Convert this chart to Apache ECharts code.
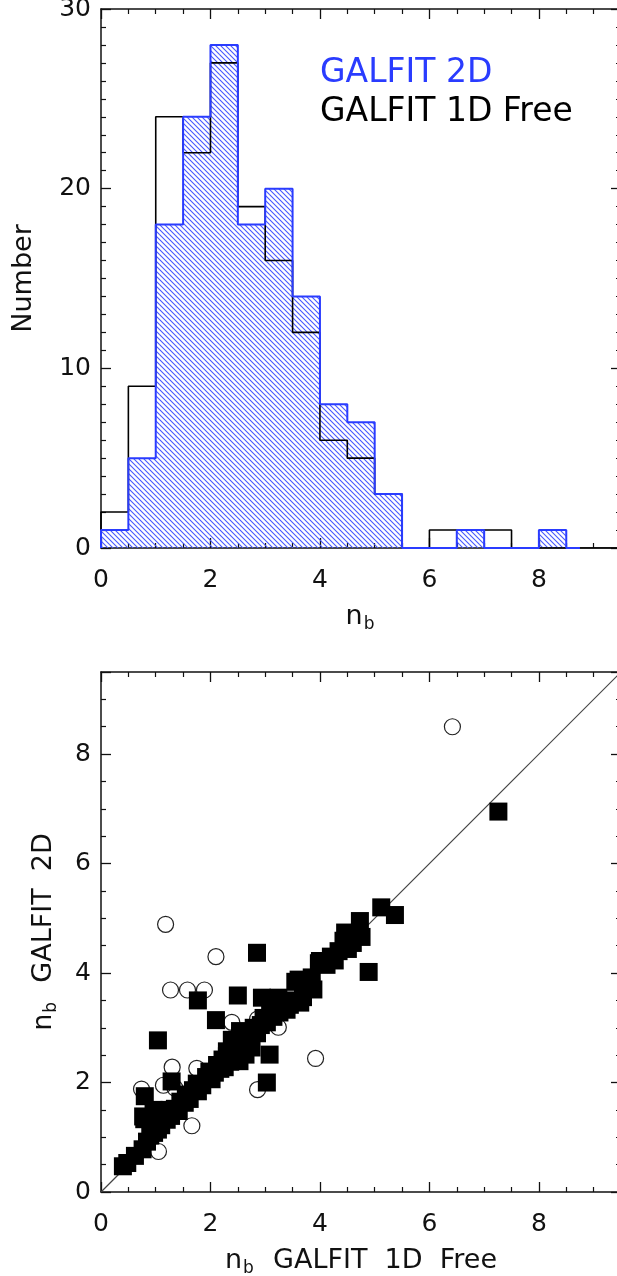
<!DOCTYPE html>
<html>
<head>
<meta charset="utf-8">
<script src="https://cdn.jsdelivr.net/npm/echarts@6/dist/echarts.min.js"></script>
<style>
html,body{margin:0;padding:0;background:#fff;}
#chart{width:617px;height:1276px;}
</style>
</head>
<body>
<div id="chart"></div>
<script>
// ---------- data ----------
const binStart = 0;
const binWidth = 0.5;
// GALFIT 1D Free histogram counts, bins 0-0.5, 0.5-1, ... up to 9.5
const counts1DFree = [2, 9, 24, 22, 27, 19, 16, 12, 6, 5, 3, 0, 1, 1, 1, 0, 0, 0, 0];
// GALFIT 2D histogram counts, bins 0-0.5 ... 8-8.5
const counts2D = [1, 5, 18, 24, 28, 18, 20, 14, 8, 7, 3, 0, 0, 1, 0, 0, 1];
const histEnd1DFree = 9.5;
const histEnd2D = 8.75;

const histXTicks = [0, 2, 4, 6, 8];
const histYTicks = [0, 10, 20, 30];
const scatXTicks = [0, 2, 4, 6, 8];
const scatYTicks = [0, 2, 4, 6, 8];

// n_b: GALFIT 1D Free (x) vs GALFIT 2D (y)
const squares = [
 [0.40,0.47],[0.48,0.53],[0.62,0.66],[0.76,0.78],[0.84,0.92],[0.90,1.03],[0.97,1.08],[1.04,1.14],
 [0.79,1.33],[0.77,1.38],[0.96,1.50],[0.80,1.75],[1.02,1.28],[1.10,1.22],[1.12,1.40],[1.20,1.32],
 [1.28,1.39],[1.25,1.50],[1.29,2.02],[1.35,1.52],[1.42,1.48],[1.45,1.65],[1.53,1.63],[1.55,1.78],
 [1.62,1.70],[1.68,1.86],[1.77,1.84],[1.75,1.98],[1.85,1.95],[1.92,2.10],[2.02,2.06],[1.98,2.20],
 [2.08,2.18],[2.12,2.32],[2.18,2.25],[2.26,2.28],[2.22,2.42],[2.30,2.48],[2.36,2.38],[2.42,2.60],
 [2.53,2.39],[2.64,2.51],[2.50,2.62],[2.60,2.72],[2.54,2.85],[2.42,2.66],[2.30,2.57],[2.39,2.78],
 [2.75,2.64],[2.70,2.85],[2.79,3.00],[2.85,2.90],[2.97,3.18],[2.92,3.05],[3.03,3.10],[3.09,3.37],
 [3.15,3.20],[3.26,3.28],[3.24,3.45],[3.33,3.46],[3.39,3.33],[3.45,3.42],[3.55,3.50],[3.64,3.46],
 [3.69,3.56],[3.84,3.74],[3.82,3.79],[3.85,3.92],[3.88,3.70],[3.61,3.88],[3.55,3.84],
 [2.94,3.55],[3.24,3.55],[3.98,4.18],[4.00,4.22],[4.12,4.15],[4.20,4.30],[4.27,4.23],
 [4.34,4.40],[4.43,4.59],[4.46,4.74],[4.51,4.44],[4.60,4.55],[4.76,4.66],[4.73,4.95],
 [5.12,5.20],[5.37,5.06],[4.89,4.02],[7.26,6.95],[2.85,4.37],[1.77,3.50],[2.50,3.59],
 [1.04,2.77],[2.10,3.14],[3.03,2.00],[3.08,2.51],[2.54,2.94]
];
const circles = [
 [6.42,8.50],[1.18,4.89],[2.10,4.30],[1.27,3.69],[1.58,3.69],[1.89,3.69],[2.39,3.10],[2.86,3.16],
 [3.24,3.01],[3.92,2.44],[2.86,1.87],[1.30,2.28],[1.75,2.26],[0.74,1.88],[1.14,1.95],[1.35,1.90],
 [1.66,1.21],[1.05,0.74]
];
const oneToOneRange = [0, 9.5];

// ---------- styling ----------
const FONT = 'DejaVu Sans';
const BLUE = '#2a3cff';
const AXIS = '#111';

function stepPoints(counts, start, width, end) {
  const pts = [[start, 0]];
  counts.forEach((c, i) => {
    pts.push([start + i * width, c]);
    pts.push([start + (i + 1) * width, c]);
  });
  pts.push([start + counts.length * width, 0]);
  pts.push([end, 0]);
  return pts;
}

function makeHatch() {
  const s = 10;
  const cv = document.createElement('canvas');
  cv.width = s; cv.height = s;
  const ctx = cv.getContext('2d');
  ctx.strokeStyle = '#4656ff';
  ctx.lineWidth = 1.1;
  for (let c = -10; c <= 10; c += 5) {
    ctx.beginPath();
    ctx.moveTo(c - 2, -2);
    ctx.lineTo(c + s + 2, s + 2);
    ctx.stroke();
  }
  return cv;
}

function baseAxis(extra) {
  return Object.assign({
    type: 'value',
    axisLine: { show: true, onZero: false, lineStyle: { color: AXIS, width: 1.5 } },
    axisTick: { show: true, inside: true, length: 10, lineStyle: { color: AXIS, width: 1.3 } },
    minorTick: { show: true, length: 5, lineStyle: { color: AXIS, width: 1.2 } },
    splitLine: { show: false },
    minorSplitLine: { show: false }
  }, extra);
}

const labelStyle = { color: AXIS, fontFamily: FONT, fontSize: 25 };
const nameRich = {
  n: { fontFamily: FONT, fontSize: 27, color: AXIS, lineHeight: 32 },
  b: { fontFamily: FONT, fontSize: 17, color: AXIS, lineHeight: 17, verticalAlign: 'bottom', padding: [0, 2, 0, 1] },
  t: { fontFamily: FONT, fontSize: 27, color: AXIS, lineHeight: 32 }
};

const chart = echarts.init(document.getElementById('chart'), null, { renderer: 'canvas' });

const option = {
  animation: false,
  backgroundColor: '#fff',
  legend: {
    orient: 'vertical',
    left: 310,
    top: 52,
    itemWidth: 0,
    itemHeight: 0,
    itemGap: 6,
    selectedMode: false,
    textStyle: { fontFamily: FONT, fontSize: 33 },
    data: [
      { name: 'GALFIT 2D', icon: 'rect', textStyle: { color: BLUE } },
      { name: 'GALFIT 1D Free', icon: 'rect', textStyle: { color: '#000' } }
    ]
  },
  grid: [
    { left: 101, top: 9, width: 520, height: 539, outerBoundsMode: 'none', containLabel: false },
    { left: 101, top: 672, width: 520, height: 520, outerBoundsMode: 'none', containLabel: false }
  ],
  xAxis: [
    baseAxis({
      gridIndex: 0, position: 'bottom', min: 0, max: 9.5, interval: 2,
      minorTick: { show: true, splitNumber: 4, length: 5, lineStyle: { color: AXIS, width: 1.2 } },
      axisLabel: Object.assign({ margin: 20, formatter: v => histXTicks.includes(v) ? String(v) : '' }, labelStyle),
      name: '{n|n}{b|b}', nameLocation: 'middle', nameGap: 53,
      nameTextStyle: { rich: nameRich }
    }),
    baseAxis({
      gridIndex: 0, position: 'top', min: 0, max: 9.5, interval: 2,
      minorTick: { show: true, splitNumber: 4, length: 5, lineStyle: { color: AXIS, width: 1.2 } },
      axisLabel: { show: false }
    }),
    baseAxis({
      gridIndex: 1, position: 'bottom', min: 0, max: 9.5, interval: 2,
      minorTick: { show: true, splitNumber: 4, length: 5, lineStyle: { color: AXIS, width: 1.2 } },
      axisLabel: Object.assign({ margin: 20, formatter: v => scatXTicks.includes(v) ? String(v) : '' }, labelStyle),
      name: '{n|n}{b|b}{t|  GALFIT  1D  Free}', nameLocation: 'middle', nameGap: 53,
      nameTextStyle: { rich: nameRich }
    }),
    baseAxis({
      gridIndex: 1, position: 'top', min: 0, max: 9.5, interval: 2,
      minorTick: { show: true, splitNumber: 4, length: 5, lineStyle: { color: AXIS, width: 1.2 } },
      axisLabel: { show: false }
    })
  ],
  yAxis: [
    baseAxis({
      gridIndex: 0, position: 'left', min: 0, max: 30, interval: 10,
      minorTick: { show: true, splitNumber: 10, length: 5, lineStyle: { color: AXIS, width: 1.2 } },
      axisLabel: Object.assign({ margin: 10, formatter: v => histYTicks.includes(v) ? String(v) : '' }, labelStyle),
      name: 'Number', nameLocation: 'middle', nameGap: 61,
      nameTextStyle: { fontFamily: FONT, fontSize: 27, color: AXIS, lineHeight: 32 }
    }),
    baseAxis({
      gridIndex: 0, position: 'right', min: 0, max: 30, interval: 10,
      minorTick: { show: true, splitNumber: 10, length: 5, lineStyle: { color: AXIS, width: 1.2 } },
      axisLabel: { show: false }
    }),
    baseAxis({
      gridIndex: 1, position: 'left', min: 0, max: 9.5, interval: 2,
      minorTick: { show: true, splitNumber: 4, length: 5, lineStyle: { color: AXIS, width: 1.2 } },
      axisLabel: Object.assign({ margin: 10, formatter: v => scatYTicks.includes(v) ? String(v) : '' }, labelStyle),
      name: '{n|n}{b|b}{t|  GALFIT  2D}', nameLocation: 'middle', nameGap: 41,
      nameTextStyle: { rich: nameRich }
    }),
    baseAxis({
      gridIndex: 1, position: 'right', min: 0, max: 9.5, interval: 2,
      minorTick: { show: true, splitNumber: 4, length: 5, lineStyle: { color: AXIS, width: 1.2 } },
      axisLabel: { show: false }
    })
  ],
  series: [
    {
      name: 'GALFIT 2D', type: 'line', xAxisIndex: 0, yAxisIndex: 0,
      data: stepPoints(counts2D, binStart, binWidth, histEnd2D),
      symbol: 'none', showSymbol: false,
      lineStyle: { width: 0, opacity: 0 },
      itemStyle: { color: BLUE },
      areaStyle: { color: { image: makeHatch(), repeat: 'repeat' }, opacity: 1 },
      z: 2
    },
    {
      name: 'GALFIT 1D Free', type: 'line', xAxisIndex: 0, yAxisIndex: 0,
      data: stepPoints(counts1DFree, binStart, binWidth, histEnd1DFree),
      symbol: 'none', showSymbol: false,
      itemStyle: { color: '#000' },
      lineStyle: { color: '#000', width: 1.6 },
      z: 3
    },
    {
      name: 'GALFIT 2D', type: 'line', xAxisIndex: 0, yAxisIndex: 0,
      data: stepPoints(counts2D, binStart, binWidth, histEnd2D),
      symbol: 'none', showSymbol: false,
      itemStyle: { color: BLUE },
      lineStyle: { color: BLUE, width: 2 },
      z: 4
    },
    {
      name: 'one-to-one', type: 'line', xAxisIndex: 2, yAxisIndex: 2,
      data: oneToOneRange.map(v => [v, v]),
      symbol: 'none', showSymbol: false,
      lineStyle: { color: '#444', width: 1.2 },
      z: 2
    },
    {
      name: 'circles', type: 'scatter', xAxisIndex: 2, yAxisIndex: 2,
      data: circles, symbol: 'circle', symbolSize: 16,
      itemStyle: { color: 'rgba(0,0,0,0)', borderColor: '#222', borderWidth: 1.2, opacity: 1 },
      z: 3
    },
    {
      name: 'squares', type: 'scatter', xAxisIndex: 2, yAxisIndex: 2,
      data: squares, symbol: 'rect', symbolSize: 18,
      itemStyle: { color: '#000', opacity: 1 },
      z: 4
    }
  ]
};
chart.setOption(option);
</script>
</body>
</html>
